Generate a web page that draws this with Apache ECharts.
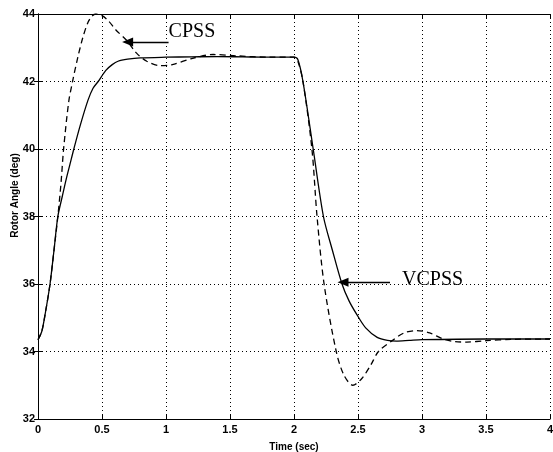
<!DOCTYPE html>
<html>
<head>
<meta charset="utf-8">
<script src="https://cdn.jsdelivr.net/npm/echarts@6/dist/echarts.min.js"></script>
<style>
  html, body { margin: 0; padding: 0; background: #fff; }
  #chart { width: 553px; height: 452px; }
</style>
</head>
<body>
<div id="chart"></div>
<script>
// time (sec) and rotor angle (deg)
var tVcpss = [0, 0.03, 0.06, 0.094, 0.125, 0.155, 0.19, 0.22, 0.25, 0.28, 0.33, 0.39, 0.43, 0.47, 0.53, 0.58, 0.625, 0.7, 0.8, 1.0, 1.2, 1.4, 1.6, 1.8, 2.0, 2.03, 2.07, 2.15, 2.23, 2.3, 2.375, 2.43, 2.49, 2.56, 2.65, 2.73, 2.8, 2.9, 3.0, 3.5, 4.0];
var vVcpss = [34.35, 34.6, 35.2, 36, 37, 38, 38.6, 39.1, 39.55, 40, 40.7, 41.44, 41.8, 42.0, 42.33, 42.5, 42.6, 42.66, 42.7, 42.72, 42.73, 42.74, 42.73, 42.72, 42.72, 42.65, 42.0, 40.0, 38.0, 37.0, 36.0, 35.5, 35.1, 34.7, 34.42, 34.33, 34.31, 34.33, 34.35, 34.37, 34.37];

var tCpss = [0, 0.03, 0.06, 0.094, 0.125, 0.155, 0.18, 0.2, 0.24, 0.27, 0.31, 0.35, 0.39, 0.42, 0.45, 0.5, 0.55, 0.61, 0.69, 0.77, 0.85, 0.95, 1.05, 1.2, 1.37, 1.55, 1.8, 2.0, 2.03, 2.07, 2.14, 2.18, 2.235, 2.33, 2.39, 2.46, 2.53, 2.6, 2.66, 2.77, 2.86, 2.96, 3.06, 3.16, 3.26, 3.35, 3.5, 3.7, 4.0];
var vCpss = [34.35, 34.6, 35.2, 36, 37, 38, 39, 40, 41.4, 42, 42.7, 43.3, 43.75, 43.93, 44.0, 43.95, 43.8, 43.52, 43.23, 42.84, 42.6, 42.47, 42.5, 42.68, 42.8, 42.76, 42.72, 42.72, 42.6, 42.0, 40.0, 38.0, 36.0, 34.0, 33.3, 33.0, 33.2, 33.6, 34.0, 34.33, 34.55, 34.62, 34.55, 34.38, 34.29, 34.28, 34.32, 34.36, 34.37];

var xTicks = [0, 0.5, 1, 1.5, 2, 2.5, 3, 3.5, 4];
var yTicks = [32, 34, 36, 38, 40, 42, 44];

function pairs(ts, vs) {
    var out = [];
    for (var i = 0; i < ts.length; i++) {
        out.push([ts[i], vs[i]]);
    }
    return out;
}

var tickFont = { fontFamily: 'Liberation Sans, Arial', fontWeight: 'bold', fontSize: 11, color: '#000' };
var noteFont = { fontFamily: 'Liberation Serif, Times New Roman', fontSize: 20, color: '#000' };

var myChart = echarts.init(document.getElementById('chart'));

var hiddenAxis = {
    type: 'value',
    axisLine: { show: true, lineStyle: { color: '#000', width: 1 } },
    axisTick: { show: true, inside: true, length: 4, lineStyle: { color: '#000' } },
    axisLabel: { show: false },
    splitLine: { show: false }
};

myChart.setOption({
    animation: false,
    backgroundColor: '#fff',
    grid: { left: 38, right: 3, top: 14, bottom: 33, containLabel: false, outerBoundsMode: 'none' },
    xAxis: [
        {
            type: 'value', min: 0, max: 4, interval: 0.5,
            name: 'Time (sec)', nameLocation: 'middle', nameGap: 23,
            nameTextStyle: { fontFamily: 'Liberation Sans, Arial', fontWeight: 'bold', fontSize: 10, color: '#000' },
            axisLine: { lineStyle: { color: '#000', width: 1 } },
            axisTick: { inside: true, length: 4, lineStyle: { color: '#000' } },
            axisLabel: Object.assign({ margin: 5, formatter: function (v) { return xTicks.indexOf(v) >= 0 ? String(v) : ''; } }, tickFont),
            splitLine: { show: true, lineStyle: { color: '#000', width: 1, type: [1, 3] } }
        },
        Object.assign({ position: 'top', min: 0, max: 4, interval: 0.5 }, hiddenAxis)
    ],
    yAxis: [
        {
            type: 'value', min: 32, max: 44, interval: 2,
            name: 'Rotor Angle (deg)', nameLocation: 'middle', nameGap: 18, nameMoveOverlap: false,
            nameTextStyle: { fontFamily: 'Liberation Sans, Arial', fontWeight: 'bold', fontSize: 10, color: '#000', padding: [0, 0, 0, 42] },
            axisLine: { show: true, lineStyle: { color: '#000', width: 1 } },
            axisTick: { show: true, inside: true, length: 4, lineStyle: { color: '#000' } },
            axisLabel: Object.assign({ margin: 3, formatter: function (v) { return yTicks.indexOf(v) >= 0 ? String(v) : ''; } }, tickFont),
            splitLine: { show: true, lineStyle: { color: '#000', width: 1, type: [1, 3] } }
        },
        Object.assign({ position: 'right', min: 32, max: 44, interval: 2 }, hiddenAxis)
    ],
    series: [
        {
            name: 'VCPSS',
            type: 'line',
            data: pairs(tVcpss, vVcpss),
            smooth: 0.3,
            showSymbol: false,
            lineStyle: { color: '#000', width: 1.3 },
            markLine: {
                silent: true,
                symbol: ['none', 'triangle'],
                symbolSize: [9, 11],
                lineStyle: { color: '#000', width: 1.3, type: 'solid' },
                label: Object.assign({ show: true, position: 'start', distance: 12, formatter: 'VCPSS', offset: [0, -3] }, noteFont),
                data: [[{ coord: [2.75, 36.05] }, { coord: [2.383, 36.05] }]]
            }
        },
        {
            name: 'CPSS',
            type: 'line',
            data: pairs(tCpss, vCpss),
            smooth: 0.3,
            showSymbol: false,
            lineStyle: { color: '#000', width: 1.3, type: [6, 4] },
            markLine: {
                silent: true,
                symbol: ['none', 'triangle'],
                symbolSize: [9, 11],
                lineStyle: { color: '#000', width: 1.3, type: 'solid' },
                label: Object.assign({ show: true, position: 'start', distance: 0, formatter: 'CPSS', offset: [0, -10] }, noteFont),
                data: [[{ coord: [1.02, 43.17] }, { coord: [0.70, 43.17] }]]
            }
        }
    ]
});
</script>
</body>
</html>
